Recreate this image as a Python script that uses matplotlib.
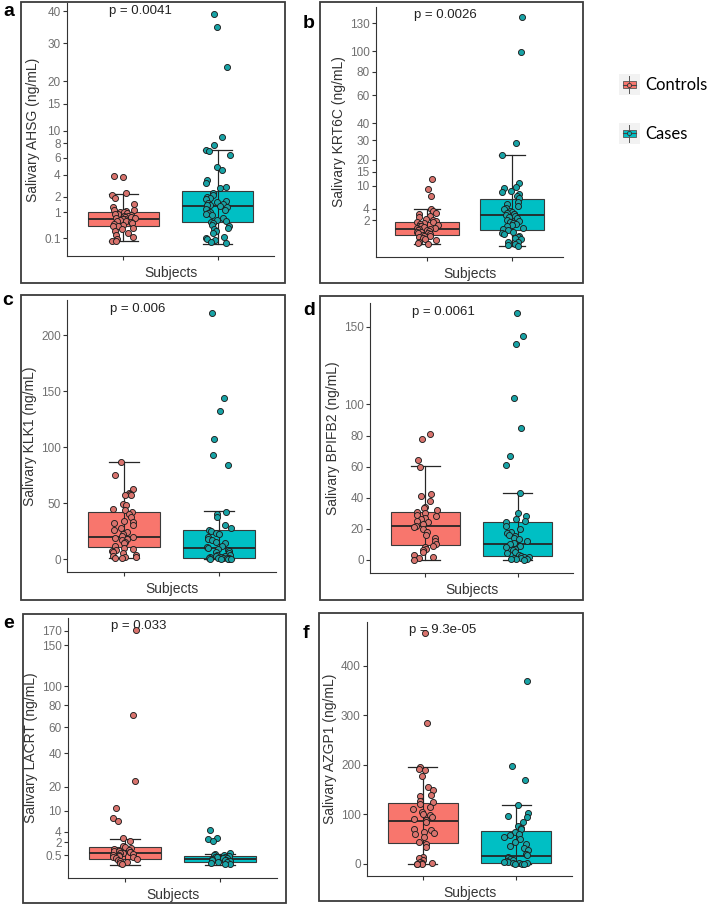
import numpy as np
import matplotlib
matplotlib.use('Agg')
import matplotlib.pyplot as plt
from matplotlib.patches import Rectangle
from matplotlib.lines import Line2D
from matplotlib.legend_handler import HandlerBase
from matplotlib.ticker import NullLocator

plt.rcParams['font.family'] = ['Liberation Sans', 'DejaVu Sans']

CTRL = '#F8766D'
CASE = '#00BFC4'
CTRL_PT = '#d9736d'
CASE_PT = '#17a3a6'
groups = ['Controls', 'Cases']

# ---------------- data ----------------
a_ctrl = [3.9, 3.7, 2.3, 2.1, 1.9, 1.5, 1.3, 1.15, 1.1, 1.05, 1.0, 1.0, 0.95, 0.92, 0.9, 0.85,
          0.82, 0.8, 0.78, 0.75, 0.72, 0.7, 0.68, 0.66, 0.64, 0.6, 0.58, 0.55, 0.5, 0.48, 0.45,
          0.42, 0.4, 0.35, 0.3, 0.25, 0.2, 0.15, 0.12, 0.09, 0.06, 0.055]
a_case = [39, 35, 23.5, 9, 7.7, 7.0, 6.9, 6.4, 4.9, 4.5, 3.4, 3.2, 2.8, 2.7, 2.3, 2.1, 2.0, 1.9,
          1.8, 1.7, 1.6, 1.55, 1.5, 1.45, 1.4, 1.35, 1.3, 1.2, 1.1, 1.0, 0.95, 0.9, 0.85, 0.7,
          0.65, 0.6, 0.55, 0.5, 0.45, 0.4, 0.35, 0.3, 0.25, 0.2, 0.12, 0.1, 0.09, 0.07, 0.05, 0.03]
a_ctrl_box = [0.053, 0.42, 0.68, 1.0, 2.23]
a_case_box = [0.023, 0.56, 1.36, 2.42, 7.0]

b_ctrl = [12.2, 8.9, 6.9, 3.9, 3.5, 3.2, 2.9, 2.6, 2.4, 2.2, 2.0, 1.9, 1.8, 1.7, 1.6, 1.5, 1.4,
          1.3, 1.2, 1.1, 1.0, 0.98, 0.95, 0.9, 0.85, 0.8, 0.75, 0.7, 0.65, 0.6, 0.55, 0.5, 0.45,
          0.4, 0.35, 0.3, 0.25, 0.2, 0.15, 0.1, 0.07, 0.05]
b_case = [137, 99, 28.4, 22.4, 11, 9.6, 9.3, 8.5, 8, 7.5, 7, 6.5, 5.5, 5, 4.5, 4.2, 4, 3.6, 3.3,
          3.2, 3.0, 2.9, 2.8, 2.7, 2.5, 2.3, 2.0, 1.9, 1.8, 1.6, 1.5, 1.4, 1.2, 1.0, 0.9, 0.8,
          0.7, 0.6, 0.5, 0.4, 0.3, 0.25, 0.2, 0.1, 0.08, 0.05, 0.03, 0.015]
b_ctrl_box = [0.048, 0.42, 0.96, 1.78, 3.92]
b_case_box = [0.014, 0.83, 2.8, 6.19, 22.4]

c_ctrl = [87, 75, 63, 59, 58, 57, 57, 49, 48, 45, 44, 42, 40, 38, 34, 33, 32, 30, 28, 26, 24,
          22, 21, 20, 19, 18, 17, 15, 14, 12, 10, 9, 8, 7, 6, 5, 4, 3, 2, 1.5, 1, 0.5]
c_case = [220, 144, 132, 107, 93, 84, 42, 40, 38, 30, 28, 26, 25, 23, 22, 20, 18, 17, 15, 14,
          12, 11, 10, 9, 8, 7, 6, 5, 4, 3.5, 3, 2.5, 2, 1.5, 1.2, 1, 0.8, 0.6, 0.5, 0.4, 0.3,
          0.2, 0.1, 0]
c_ctrl_box = [0.5, 10.4, 19.3, 42.0, 87.2]
c_case_box = [0.0, 0.9, 9.8, 26.4, 42.9]

d_ctrl = [81, 78, 64, 60, 42, 41, 38, 34, 33, 32, 31, 30, 29, 28, 27, 26, 25, 24, 23, 22, 21,
          20, 18, 16, 14, 12, 10, 9, 8, 7, 6, 5, 3, 2, 1, 0]
d_case = [159, 144, 139, 104, 85, 67, 61, 43, 30, 28, 26, 25, 24, 22, 20, 18, 17, 16, 15, 14,
          13, 12, 11, 10, 9, 8, 7, 6, 5, 4, 3, 2.5, 2, 1.5, 1, 0.8, 0.5, 0.3, 0.1, 0]
d_ctrl_box = [0.0, 9.7, 21.9, 30.7, 60.6]
d_case_box = [0.0, 2.6, 9.9, 24.0, 43.0]

e_ctrl = [172, 71, 22.8, 10.8, 7.7, 6.6, 2.7, 2.2, 1.5, 1.3, 1.2, 1.1, 1.0, 0.9, 0.85, 0.8,
          0.75, 0.7, 0.65, 0.6, 0.55, 0.5, 0.45, 0.4, 0.35, 0.3, 0.25, 0.2, 0.15, 0.1, 0.07, 0.04]
e_case = [4.3, 2.7, 2.5, 2.2, 0.65, 0.6, 0.55, 0.5, 0.45, 0.4, 0.38, 0.35, 0.3, 0.28, 0.25,
          0.22, 0.2, 0.18, 0.15, 0.13, 0.1, 0.08, 0.06, 0.04]
e_ctrl_box = [0.037, 0.23, 0.69, 1.31, 2.63]
e_case_box = [0.037, 0.13, 0.25, 0.42, 0.64]

f_ctrl = [465, 285, 195, 192, 190, 178, 155, 150, 140, 138, 128, 125, 120, 115, 110, 105, 100,
          98, 95, 90, 88, 85, 70, 68, 65, 62, 60, 55, 45, 40, 35, 15, 12, 8, 5, 3, 2, 1, 0.5, 0]
f_case = [370, 198, 170, 118, 103, 96, 94, 85, 76, 73, 70, 65, 60, 58, 55, 50, 45, 40, 36, 32,
          28, 20, 18, 15, 12, 10, 8, 6, 5, 4, 3, 2, 1.5, 1, 0.5, 0]
f_ctrl_box = [0.0, 41.8, 87.7, 124.0, 195.0]
f_case_box = [0.0, 2.8, 16.0, 67.4, 118.0]

letters = ['a', 'b', 'c', 'd', 'e', 'f']
ylabels = ['Salivary AHSG (ng/mL)', 'Salivary KRT6C (ng/mL)', 'Salivary KLK1 (ng/mL)',
           'Salivary BPIFB2 (ng/mL)', 'Salivary LACRT (ng/mL)', 'Salivary AZGP1 (ng/mL)']
pvals = ['p = 0.0041', 'p = 0.0026', 'p = 0.006', 'p = 0.0061', 'p = 0.033', 'p = 9.3e-05']
yticks = [[0.1, 1, 2, 4, 6, 8, 10, 15, 20, 30, 40],
          [2, 4, 10, 15, 20, 30, 40, 60, 80, 100, 130],
          [0, 50, 100, 150, 200],
          [0, 20, 40, 60, 80, 100, 150],
          [0.5, 2, 4, 10, 20, 40, 60, 80, 100, 150, 170],
          [0, 100, 200, 300, 400]]
sqrt_scale = [True, True, False, False, True, False]
ylims = [(-0.0253, 42.9), (-0.209, 149.7), (-11.6, 231.6), (-8.6, 165.4), (-0.297, 189.0),
         (-24.2, 488.0)]
ctrl_vals = [a_ctrl, b_ctrl, c_ctrl, d_ctrl, e_ctrl, f_ctrl]
case_vals = [a_case, b_case, c_case, d_case, e_case, f_case]
ctrl_boxes = [a_ctrl_box, b_ctrl_box, c_ctrl_box, d_ctrl_box, e_ctrl_box, f_ctrl_box]
case_boxes = [a_case_box, b_case_box, c_case_box, d_case_box, e_case_box, f_case_box]

# ---------------- layout (pixels) ----------------
W, H = 708, 906
axes_px = [(67, 3, 274, 256), (376, 7, 563, 257), (67, 300, 276, 572),
           (370, 303, 573, 573), (68, 618, 277, 878), (367, 622, 572, 876)]
frames_px = [(21, 2, 285, 283), (320, 2, 583, 283), (21, 295, 285, 600),
             (320, 296, 583, 600), (23, 614, 286, 903), (319, 613, 583, 901)]
letter_px = [(3, 16), (303, 28), (2, 305), (303, 315), (3, 628), (303, 638)]

fig = plt.figure(figsize=(W / 100, H / 100), dpi=100)
fig.patch.set_facecolor('white')


def fwd(x):
    x = np.asarray(x, dtype=float)
    return np.sign(x) * np.sqrt(np.abs(x))


def inv(y):
    y = np.asarray(y, dtype=float)
    return np.sign(y) * y ** 2


def fmt(t):
    return ('%g' % t)


rng = np.random.default_rng(11)
TXT = '#333333'
TICK = '#707070'

for i in range(6):
    x0, y0, x1, y1 = axes_px[i]
    ax = fig.add_axes([x0 / W, 1 - y1 / H, (x1 - x0) / W, (y1 - y0) / H])
    if sqrt_scale[i]:
        ax.set_yscale('function', functions=(fwd, inv))
    stats = []
    for bx in (ctrl_boxes[i], case_boxes[i]):
        stats.append(dict(whislo=bx[0], q1=bx[1], med=bx[2], q3=bx[3], whishi=bx[4], fliers=[]))
    bp = ax.bxp(stats, positions=[1, 2], widths=0.75, patch_artist=True, showfliers=False,
                capwidths=0.31,
                boxprops=dict(linewidth=0.8, edgecolor='#3a3a3a', zorder=2),
                medianprops=dict(color='#262626', linewidth=1.3, zorder=2.5),
                whiskerprops=dict(color='#262626', linewidth=0.8, zorder=3),
                capprops=dict(color='#262626', linewidth=0.9, zorder=3))
    for patch, c in zip(bp['boxes'], [CTRL, CASE]):
        patch.set_facecolor(c)
    for pos, bx in zip([1, 2], (ctrl_boxes[i], case_boxes[i])):
        ax.vlines(pos, bx[0], bx[4], color='#262626', linewidth=0.8, zorder=3)
    for pos, vals, c in zip([1, 2], (ctrl_vals[i], case_vals[i]), [CTRL_PT, CASE_PT]):
        v = np.asarray(vals, dtype=float)
        xj = pos + rng.uniform(-0.13, 0.13, size=len(v))
        ax.scatter(xj, v, s=19, facecolor=c, edgecolor='#1e1e1e', linewidth=0.65, zorder=4)
    ax.set_xlim(0.4, 2.6)
    ax.set_ylim(*ylims[i])
    ax.set_yticks(yticks[i])
    ax.set_yticklabels([fmt(t) for t in yticks[i]])
    ax.yaxis.set_minor_locator(NullLocator())
    ax.set_xticks([1, 2])
    ax.set_xticklabels([])
    ax.tick_params(axis='both', length=3, width=0.8, color='#333333', labelsize=8.5,
                   labelcolor=TICK, pad=1.5)
    for s in ['top', 'right']:
        ax.spines[s].set_visible(False)
    for s in ['left', 'bottom']:
        ax.spines[s].set_color('#333333')
        ax.spines[s].set_linewidth(0.8)
    ax.set_ylabel(ylabels[i], fontsize=10, color=TXT, labelpad=3)
    ax.set_xlabel('Subjects', fontsize=10, color=TXT, labelpad=3)
    ax.text((0.85 - 0.4) / 2.2, 0.968, pvals[i], transform=ax.transAxes, fontsize=9.5,
            color='#222222', va='center', ha='left')
    ax.patch.set_alpha(0)

    fx0, fy0, fx1, fy1 = frames_px[i]
    fig.add_artist(Rectangle((fx0 / W, 1 - fy1 / H), (fx1 - fx0) / W, (fy1 - fy0) / H,
                             transform=fig.transFigure, fill=False, linewidth=1.3,
                             edgecolor='#3c3c3c'))
    lx, ly = letter_px[i]
    fig.text(lx / W, 1 - ly / H, letters[i], fontsize=14, fontweight='bold', color='black',
             va='baseline', ha='left')


# ---------------- legend ----------------
class BoxKeyHandler(HandlerBase):
    def create_artists(self, legend, orig_handle, xdescent, ydescent, width, height,
                       fontsize, trans):
        col = orig_handle.get_color()
        x0, y0 = -xdescent, -ydescent
        bg = Rectangle((x0 - 1.5, y0 - 1.5), width + 3, height + 3, facecolor='#f2f2f2',
                       edgecolor='none', transform=trans)
        vl = Line2D([x0 + width / 2] * 2, [y0, y0 + height], color='#555555', lw=0.7,
                    transform=trans)
        bx = Rectangle((x0 + 0.1 * width, y0 + 0.28 * height), 0.8 * width, 0.44 * height,
                       facecolor=col, edgecolor='#555555', lw=0.6, transform=trans)
        md = Line2D([x0 + 0.1 * width, x0 + 0.9 * width], [y0 + height / 2] * 2,
                    color='#444444', lw=0.8, transform=trans)
        pt = Line2D([x0 + width / 2], [y0 + height / 2], marker='o', markersize=3,
                    markerfacecolor=col, markeredgecolor='#333333', markeredgewidth=0.6,
                    transform=trans)
        return [bg, bx, vl, md, pt]


handles = [Line2D([], [], color=CTRL), Line2D([], [], color=CASE)]
fig.legend(handles, groups, handler_map={Line2D: BoxKeyHandler()}, loc='center left',
           bbox_to_anchor=(621 / W, 1 - 109 / H), frameon=False,
           prop={'family': ['Lato', 'DejaVu Sans'], 'size': 12}, handlelength=1.0,
           handleheight=1.2, handletextpad=0.45, labelspacing=1.9, borderaxespad=0,
           borderpad=0)

fig.savefig('out.png', dpi=100, facecolor='white')
